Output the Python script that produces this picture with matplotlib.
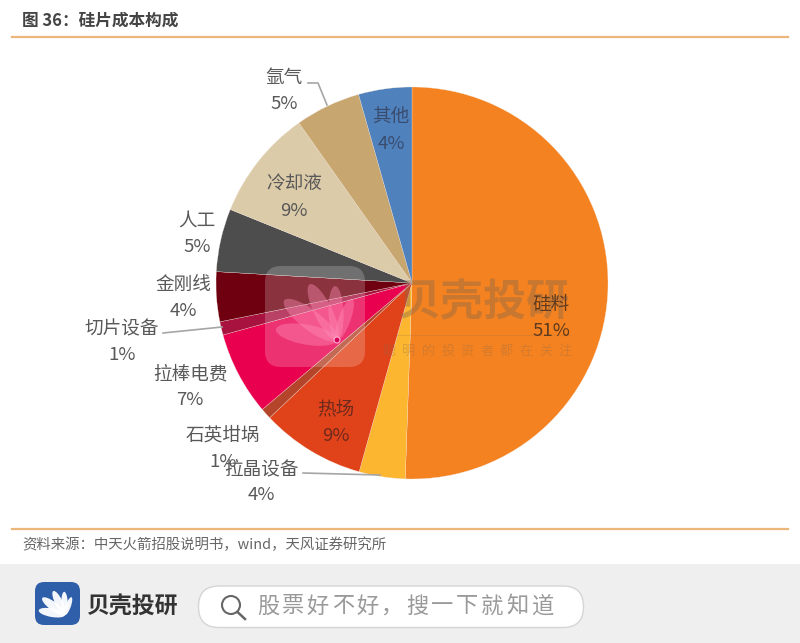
import numpy as np
import matplotlib
matplotlib.use("Agg", force=True)
import matplotlib.pyplot as plt
from matplotlib.patches import Ellipse, FancyBboxPatch, Circle, Rectangle

plt.rcParams['font.family'] = ['Noto Sans CJK SC', 'DejaVu Sans']

W, H = 800, 643

# slices, clockwise from 12 o'clock; shares,
# the printed labels are these rounded to whole percent
items = ['硅料', '拉晶设备', '热场', '石英坩埚', '拉棒电费', '切片设备',
         '金刚线', '人工', '冷却液', '氩气', '其他']
shares = [50.6, 3.8, 8.6, 0.9, 6.9, 1.1, 4.1, 5.2, 9.1, 5.4, 4.4]
colors = ['#F58220', '#FDB62F', '#E0431A', '#B5452A', '#E9004F', '#A8123F',
          '#6F0010', '#4D4D4D', '#DCCBA8', '#C8A66F', '#4F81BD']

title = '图 36：硅片成本构成'
source = '资料来源：中天火箭招股说明书，wind，天风证券研究所'
brand = '贝壳投研'
search_hint = '股票好不好，搜一下就知道'
slogan = '聪明的投资者都在关注'

# label centres in image pixels (first line)
label_px = [(551, 305), (261, 469), (336, 410), (223, 436), (190, 374), (122, 329),
            (183, 285), (197, 221), (294, 185), (284, 78), (391, 118)]
# labels that sit on a strong slice get a darker text
label_colors = {'硅料': '#5E3A1E', '热场': '#6E2A1C', '其他': '#3A4C6E'}


def py(y):
    # image rows run downward, the axes run upward
    return H - y


def petals(ax, x, y, scale, color, alpha, zorder):
    # fan logo: petals spread from one pivot
    for ang, length, width in [(170, 62, 20), (143, 66, 20), (116, 62, 18),
                               (92, 54, 15), (70, 44, 12)]:
        rad = length / 2 * scale
        cx = x + rad * np.cos(np.radians(ang))
        cy = y + rad * np.sin(np.radians(ang))
        ax.add_patch(Ellipse((cx, cy), length * scale, width * scale, angle=ang,
                             facecolor=color, edgecolor='none', alpha=alpha, zorder=zorder))


fig = plt.figure(figsize=(W / 100, H / 100), dpi=100)
ax = fig.add_axes([0, 0, 1, 1])

ax.pie(shares, colors=colors, startangle=90, counterclock=False,
       center=(412, py(283)), radius=196,
       wedgeprops={'linewidth': 0.2, 'edgecolor': '#F5E6DC'})
ax.set_xlim(0, W)
ax.set_ylim(0, H)
ax.set_aspect('auto')
ax.axis('off')

# header and source rules
ax.plot([12, 788], [py(37), py(37)], color='#EDB67A', lw=1.6)
ax.plot([12, 788], [py(529), py(529)], color='#EDB67A', lw=1.6)
ax.text(22, py(21), title, fontsize=12, fontweight='bold', color='#444444',
        ha='left', va='center')
ax.text(22, py(545), source, fontsize=10.4, color='#666666', ha='left', va='center')

# leader lines
for xs, ys in [([308, 318, 327], [83, 83, 105]),
               ([163, 222], [333, 327]),
               ([303, 380], [473, 475])]:
    ax.plot(xs, [py(v) for v in ys], color='#A6A6A6', lw=1.2, zorder=4)

# watermark
ax.add_patch(FancyBboxPatch((273, py(359)), 84, 85, boxstyle='round,pad=8,rounding_size=16',
                            facecolor='white', edgecolor='none', alpha=0.2, zorder=5))
petals(ax, 337, py(340), 1.0, '#FF8FB8', 0.4, 5)
ax.add_patch(Circle((337, py(340)), 3, facecolor='#D6005A', edgecolor='#FFB0D0', lw=0.8, zorder=6))
ax.text(483, py(302), brand, fontsize=31, fontweight='bold', color='#8A6A4A', alpha=0.42,
        ha='center', va='center', zorder=5)
ax.plot([395, 570], [py(335), py(335)], color='#8A6A4A', alpha=0.2, lw=0.8, zorder=5)
for i, ch in enumerate(slogan):
    ax.text(389 + i * 19.6, py(351), ch, fontsize=9.5, color='#8A6A4A', alpha=0.3,
            ha='center', va='center', zorder=5, style='italic')

# slice labels
for name, share, (lx, ly) in zip(items, shares, label_px):
    c = label_colors.get(name, '#595959')
    ax.text(lx, py(ly), name, fontsize=13.4, color=c, ha='center', va='center', zorder=7)
    ax.text(lx, py(ly + 26), f'{round(share)}%', fontsize=13.4, color=c, ha='center', va='center', zorder=7)

# footer band
ax.add_patch(Rectangle((0, 0), W, py(564), facecolor='#EFEFEF', edgecolor='none', zorder=8))
ax.add_patch(FancyBboxPatch((41, py(619)), 33, 31, boxstyle='round,pad=6,rounding_size=9',
                            facecolor='#2F5FA8', edgecolor='none', zorder=9))
petals(ax, 65, py(615), 0.43, 'white', 0.95, 10)
ax.text(132, py(606), brand, fontsize=16.5, fontweight='bold', color='#333333',
        ha='center', va='center', zorder=9)
ax.add_patch(FancyBboxPatch((219, py(607)), 344, 0.5, boxstyle='round,pad=20.5,rounding_size=20.5',
                            facecolor='white', edgecolor='#D5D5D5', lw=1, zorder=9))
ax.add_patch(Circle((231, py(605)), 9, facecolor='none', edgecolor='#666666', lw=1.5, zorder=10))
ax.plot([237.5, 245], [py(612), py(619)], color='#666666', lw=1.8, zorder=10)
for i, ch in enumerate(search_hint):
    ax.text(268 + i * 24.9, py(606), ch, fontsize=16, color='#999999',
            ha='center', va='center', zorder=10)

fig.savefig('out.png', dpi=100, facecolor='white')
plt.close(fig)
